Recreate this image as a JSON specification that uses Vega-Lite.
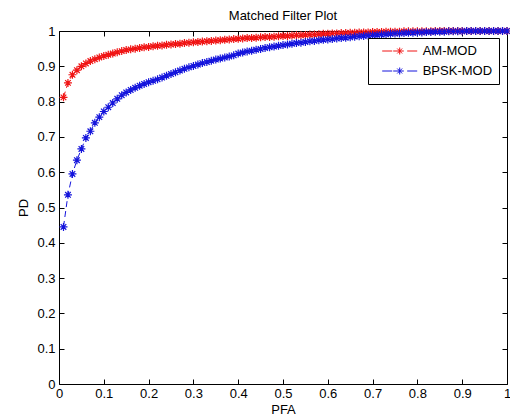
{
  "$schema": "https://vega.github.io/schema/vega-lite/v6.json",
  "width": 448,
  "height": 353,
  "autosize": {"type": "none"},
  "padding": {"left": 59, "top": 31, "right": 3, "bottom": 35},
  "background": "white",
  "title": {"text": "Matched Filter Plot", "font": "Liberation Sans", "fontSize": 13, "fontWeight": "normal", "color": "black", "offset": 10, "baseline": "alphabetic", "dy": 18},
  "config": {
    "view": {"stroke": null},
    "axis": {"domainColor": "black", "tickColor": "black", "labelColor": "black", "titleColor": "black", "labelFont": "Liberation Sans", "titleFont": "Liberation Sans", "labelFontSize": 13, "titleFontSize": 13, "titleFontWeight": "normal", "grid": false, "tickSize": -5, "domainWidth": 1, "tickWidth": 1},
    "legend": {"orient": "none", "legendX": 309, "legendY": 7, "strokeColor": "black", "fillColor": "white", "padding": 6, "rowPadding": 6,
      "symbolType": "M0.185,0L1.723,0M1.877,0L3.508,0M4.031,0L5.569,0M2.877,-0.538L2.877,0.538M2.497,-0.38L3.257,0.38M2.497,0.38L3.257,-0.38",
      "symbolSize": 169, "symbolStrokeWidth": 1, "symbolFillColor": "transparent", "symbolDash": [], "labelFont": "Liberation Sans", "labelFontSize": 13, "labelColor": "black", "labelOffset": 34.7, "labelLimit": 200}
  },
  "data": {"values": [
    {"PFA":0.01,"AM-MOD":0.812,"BPSK-MOD":0.445},
    {"PFA":0.02,"AM-MOD":0.853,"BPSK-MOD":0.536},
    {"PFA":0.03,"AM-MOD":0.876,"BPSK-MOD":0.595},
    {"PFA":0.04,"AM-MOD":0.889,"BPSK-MOD":0.634},
    {"PFA":0.05,"AM-MOD":0.900,"BPSK-MOD":0.666},
    {"PFA":0.06,"AM-MOD":0.908,"BPSK-MOD":0.697},
    {"PFA":0.07,"AM-MOD":0.915,"BPSK-MOD":0.716},
    {"PFA":0.08,"AM-MOD":0.920,"BPSK-MOD":0.740},
    {"PFA":0.09,"AM-MOD":0.925,"BPSK-MOD":0.756},
    {"PFA":0.10,"AM-MOD":0.929,"BPSK-MOD":0.772},
    {"PFA":0.11,"AM-MOD":0.933,"BPSK-MOD":0.784},
    {"PFA":0.12,"AM-MOD":0.936,"BPSK-MOD":0.796},
    {"PFA":0.13,"AM-MOD":0.940,"BPSK-MOD":0.808},
    {"PFA":0.14,"AM-MOD":0.943,"BPSK-MOD":0.818},
    {"PFA":0.15,"AM-MOD":0.946,"BPSK-MOD":0.826},
    {"PFA":0.16,"AM-MOD":0.948,"BPSK-MOD":0.833},
    {"PFA":0.17,"AM-MOD":0.950,"BPSK-MOD":0.839},
    {"PFA":0.18,"AM-MOD":0.952,"BPSK-MOD":0.845},
    {"PFA":0.19,"AM-MOD":0.954,"BPSK-MOD":0.850},
    {"PFA":0.20,"AM-MOD":0.955,"BPSK-MOD":0.855},
    {"PFA":0.21,"AM-MOD":0.957,"BPSK-MOD":0.859},
    {"PFA":0.22,"AM-MOD":0.958,"BPSK-MOD":0.863},
    {"PFA":0.23,"AM-MOD":0.959,"BPSK-MOD":0.868},
    {"PFA":0.24,"AM-MOD":0.961,"BPSK-MOD":0.873},
    {"PFA":0.25,"AM-MOD":0.962,"BPSK-MOD":0.878},
    {"PFA":0.26,"AM-MOD":0.963,"BPSK-MOD":0.883},
    {"PFA":0.27,"AM-MOD":0.964,"BPSK-MOD":0.888},
    {"PFA":0.28,"AM-MOD":0.966,"BPSK-MOD":0.893},
    {"PFA":0.29,"AM-MOD":0.967,"BPSK-MOD":0.897},
    {"PFA":0.30,"AM-MOD":0.968,"BPSK-MOD":0.901},
    {"PFA":0.31,"AM-MOD":0.969,"BPSK-MOD":0.905},
    {"PFA":0.32,"AM-MOD":0.970,"BPSK-MOD":0.909},
    {"PFA":0.33,"AM-MOD":0.971,"BPSK-MOD":0.912},
    {"PFA":0.34,"AM-MOD":0.972,"BPSK-MOD":0.916},
    {"PFA":0.35,"AM-MOD":0.973,"BPSK-MOD":0.919},
    {"PFA":0.36,"AM-MOD":0.974,"BPSK-MOD":0.922},
    {"PFA":0.37,"AM-MOD":0.975,"BPSK-MOD":0.925},
    {"PFA":0.38,"AM-MOD":0.976,"BPSK-MOD":0.928},
    {"PFA":0.39,"AM-MOD":0.977,"BPSK-MOD":0.931},
    {"PFA":0.40,"AM-MOD":0.978,"BPSK-MOD":0.936},
    {"PFA":0.41,"AM-MOD":0.979,"BPSK-MOD":0.939},
    {"PFA":0.42,"AM-MOD":0.980,"BPSK-MOD":0.942},
    {"PFA":0.43,"AM-MOD":0.980,"BPSK-MOD":0.944},
    {"PFA":0.44,"AM-MOD":0.981,"BPSK-MOD":0.947},
    {"PFA":0.45,"AM-MOD":0.982,"BPSK-MOD":0.949},
    {"PFA":0.46,"AM-MOD":0.983,"BPSK-MOD":0.952},
    {"PFA":0.47,"AM-MOD":0.983,"BPSK-MOD":0.954},
    {"PFA":0.48,"AM-MOD":0.984,"BPSK-MOD":0.956},
    {"PFA":0.49,"AM-MOD":0.985,"BPSK-MOD":0.958},
    {"PFA":0.50,"AM-MOD":0.986,"BPSK-MOD":0.960},
    {"PFA":0.51,"AM-MOD":0.986,"BPSK-MOD":0.962},
    {"PFA":0.52,"AM-MOD":0.987,"BPSK-MOD":0.964},
    {"PFA":0.53,"AM-MOD":0.988,"BPSK-MOD":0.966},
    {"PFA":0.54,"AM-MOD":0.988,"BPSK-MOD":0.967},
    {"PFA":0.55,"AM-MOD":0.989,"BPSK-MOD":0.969},
    {"PFA":0.56,"AM-MOD":0.990,"BPSK-MOD":0.971},
    {"PFA":0.57,"AM-MOD":0.990,"BPSK-MOD":0.972},
    {"PFA":0.58,"AM-MOD":0.991,"BPSK-MOD":0.974},
    {"PFA":0.59,"AM-MOD":0.992,"BPSK-MOD":0.975},
    {"PFA":0.60,"AM-MOD":0.992,"BPSK-MOD":0.976},
    {"PFA":0.61,"AM-MOD":0.993,"BPSK-MOD":0.977},
    {"PFA":0.62,"AM-MOD":0.993,"BPSK-MOD":0.979},
    {"PFA":0.63,"AM-MOD":0.994,"BPSK-MOD":0.980},
    {"PFA":0.64,"AM-MOD":0.994,"BPSK-MOD":0.981},
    {"PFA":0.65,"AM-MOD":0.995,"BPSK-MOD":0.982},
    {"PFA":0.66,"AM-MOD":0.995,"BPSK-MOD":0.984},
    {"PFA":0.67,"AM-MOD":0.996,"BPSK-MOD":0.985},
    {"PFA":0.68,"AM-MOD":0.996,"BPSK-MOD":0.986},
    {"PFA":0.69,"AM-MOD":0.996,"BPSK-MOD":0.987},
    {"PFA":0.70,"AM-MOD":0.997,"BPSK-MOD":0.988},
    {"PFA":0.71,"AM-MOD":0.997,"BPSK-MOD":0.989},
    {"PFA":0.72,"AM-MOD":0.997,"BPSK-MOD":0.990},
    {"PFA":0.73,"AM-MOD":0.998,"BPSK-MOD":0.991},
    {"PFA":0.74,"AM-MOD":0.998,"BPSK-MOD":0.992},
    {"PFA":0.75,"AM-MOD":0.998,"BPSK-MOD":0.993},
    {"PFA":0.76,"AM-MOD":0.998,"BPSK-MOD":0.993},
    {"PFA":0.77,"AM-MOD":0.999,"BPSK-MOD":0.994},
    {"PFA":0.78,"AM-MOD":0.999,"BPSK-MOD":0.995},
    {"PFA":0.79,"AM-MOD":0.999,"BPSK-MOD":0.995},
    {"PFA":0.80,"AM-MOD":0.999,"BPSK-MOD":0.996},
    {"PFA":0.81,"AM-MOD":0.999,"BPSK-MOD":0.996},
    {"PFA":0.82,"AM-MOD":0.999,"BPSK-MOD":0.997},
    {"PFA":0.83,"AM-MOD":0.999,"BPSK-MOD":0.997},
    {"PFA":0.84,"AM-MOD":1.0,"BPSK-MOD":0.998},
    {"PFA":0.85,"AM-MOD":1.0,"BPSK-MOD":0.998},
    {"PFA":0.86,"AM-MOD":1.0,"BPSK-MOD":0.998},
    {"PFA":0.87,"AM-MOD":1.0,"BPSK-MOD":0.999},
    {"PFA":0.88,"AM-MOD":1.0,"BPSK-MOD":0.999},
    {"PFA":0.89,"AM-MOD":1.0,"BPSK-MOD":0.999},
    {"PFA":0.90,"AM-MOD":1.0,"BPSK-MOD":0.999},
    {"PFA":0.91,"AM-MOD":1.0,"BPSK-MOD":1.0},
    {"PFA":0.92,"AM-MOD":1.0,"BPSK-MOD":1.0},
    {"PFA":0.93,"AM-MOD":1.0,"BPSK-MOD":1.0},
    {"PFA":0.94,"AM-MOD":1.0,"BPSK-MOD":1.0},
    {"PFA":0.95,"AM-MOD":1.0,"BPSK-MOD":1.0},
    {"PFA":0.96,"AM-MOD":1.0,"BPSK-MOD":1.0},
    {"PFA":0.97,"AM-MOD":1.0,"BPSK-MOD":1.0},
    {"PFA":0.98,"AM-MOD":1.0,"BPSK-MOD":1.0},
    {"PFA":0.99,"AM-MOD":1.0,"BPSK-MOD":1.0},
    {"PFA":1.00,"AM-MOD":1.0,"BPSK-MOD":1.0}
  ]},
  "transform": [{"fold": ["AM-MOD", "BPSK-MOD"], "as": ["series", "PD"]}],
  "resolve": {"axis": {"x": "independent", "y": "independent"}},
  "layer": [
    {
      "mark": {"type": "line", "strokeDash": [6, 4], "strokeWidth": 1},
      "encoding": {
        "x": {"field": "PFA", "type": "quantitative", "scale": {"domain": [0, 1], "nice": false},
              "axis": {"orient": "bottom", "values": [0,0.1,0.2,0.3,0.4,0.5,0.6,0.7,0.8,0.9,1], "format": "~g", "labelFlush": false, "labelPadding": 8, "title": "PFA", "titlePadding": 3}},
        "y": {"field": "PD", "type": "quantitative", "scale": {"domain": [0, 1], "nice": false},
              "axis": {"orient": "left", "values": [0,0.1,0.2,0.3,0.4,0.5,0.6,0.7,0.8,0.9,1], "format": "~g", "labelPadding": 9, "title": "PD", "titlePadding": 6}},
        "color": {"field": "series", "type": "nominal", "scale": {"domain": ["AM-MOD", "BPSK-MOD"], "range": ["#f01414", "#1414dc"]}, "legend": {"title": null}}
      }
    },
    {
      "mark": {"type": "point", "shape": "M-1,0L1,0M0,-1L0,1M-0.7,-0.7L0.7,0.7M-0.7,0.7L0.7,-0.7", "filled": false, "size": 64, "strokeWidth": 1.2, "opacity": 1},
      "encoding": {
        "x": {"field": "PFA", "type": "quantitative", "axis": null},
        "y": {"field": "PD", "type": "quantitative", "axis": null},
        "color": {"field": "series", "type": "nominal", "legend": {"title": null}},
        "order": {"field": "series"}
      }
    },
    {
      "mark": {"type": "point", "opacity": 0},
      "encoding": {
        "x": {"field": "PFA", "type": "quantitative", "axis": {"orient": "top", "values": [0,0.1,0.2,0.3,0.4,0.5,0.6,0.7,0.8,0.9,1], "labels": false, "title": null}},
        "y": {"field": "PD", "type": "quantitative", "axis": {"orient": "right", "values": [0,0.1,0.2,0.3,0.4,0.5,0.6,0.7,0.8,0.9,1], "labels": false, "title": null}}
      }
    }
  ]
}
